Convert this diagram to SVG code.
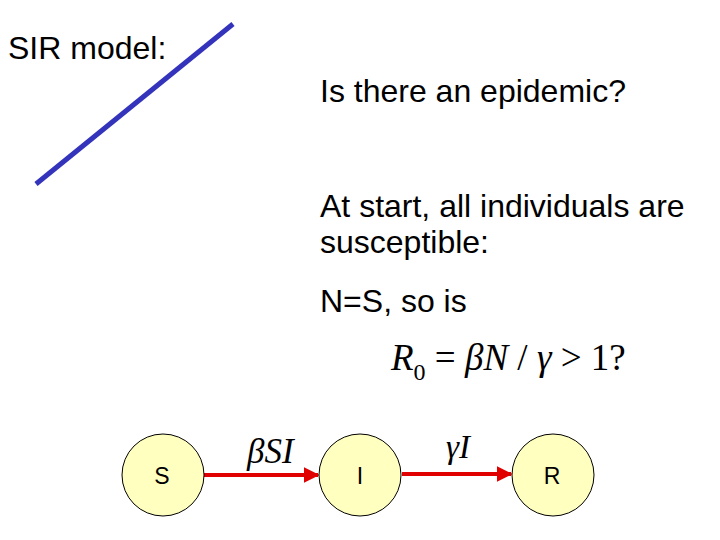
<svg xmlns="http://www.w3.org/2000/svg" width="720" height="540" viewBox="0 0 720 540">
<style>
.t{font-family:"Liberation Sans",Arial,sans-serif;font-size:32px;fill:#000}
.m{font-family:"Liberation Serif","Times New Roman",serif;font-style:italic;fill:#000}
.n{fill:#ffffc0;stroke:#000;stroke-width:1}
.nl{font-family:"Liberation Sans",Arial,sans-serif;font-size:23px;text-anchor:middle;fill:#000}
.c{stroke:#e00000;stroke-width:4;fill:none}
</style>
<defs>
<marker id="ah" viewBox="0 0 10 10" refX="9" refY="5" markerWidth="4" markerHeight="4" orient="auto" markerUnits="strokeWidth">
<path d="M0,0 L10,5 L0,10 z" fill="#e00000"/>
</marker>
</defs>
<rect width="720" height="540" fill="#fff"/>
<line x1="36" y1="184" x2="233" y2="24" stroke="#3333bb" stroke-width="5"/>
<text class="t" x="8" y="59">SIR model:</text>
<text class="t" x="320" y="102">Is there an epidemic?</text>
<text class="t" x="320" y="217">At start, all individuals are</text>
<text class="t" x="320" y="253">susceptible:</text>
<text class="t" x="320" y="312">N=S, so is</text>
<text class="m" x="391" y="370" font-size="37">R<tspan font-style="normal" font-size="24" dy="10">0</tspan><tspan dy="-10" font-style="normal"> = </tspan>βN<tspan font-style="normal"> / </tspan>γ<tspan font-style="normal"> &gt; 1?</tspan></text>
<g id="connectors">
<line class="c" x1="204" y1="475" x2="318" y2="475" marker-end="url(#ah)"/>
<line class="c" x1="402" y1="474" x2="511" y2="474" marker-end="url(#ah)"/>
<text class="m" x="247" y="463" font-size="35">βSI</text>
<text class="m" x="446" y="458" font-size="33">γI</text>
</g>
<g id="S"><circle class="n" cx="163" cy="475" r="41"/><text class="nl" x="162" y="484">S</text></g>
<g id="I"><circle class="n" cx="360" cy="475" r="41"/><text class="nl" x="360" y="484">I</text></g>
<g id="R"><circle class="n" cx="553" cy="475" r="41"/><text class="nl" x="552" y="484">R</text></g>
</svg>
